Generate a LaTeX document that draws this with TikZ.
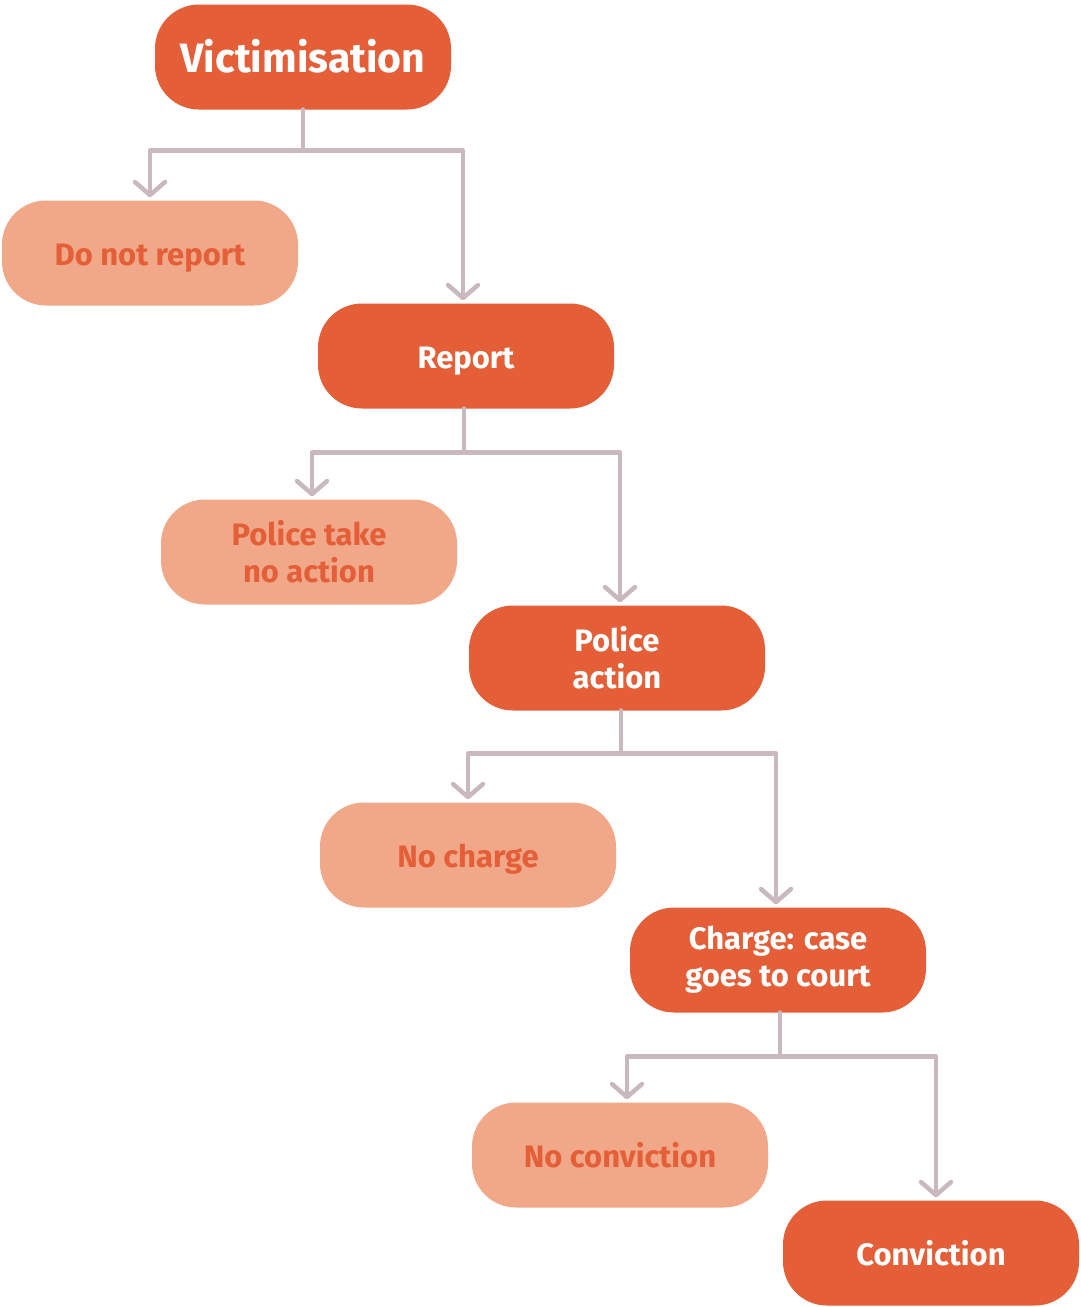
\documentclass[tikz,border=0pt]{standalone}
\usepackage{fontspec}
\setmainfont{Fira Sans}
\usetikzlibrary{arrows.meta}
\definecolor{dark}{HTML}{E45E38}
\definecolor{light}{HTML}{F0A888}
\definecolor{conn}{HTML}{C9B8BD}
\begin{document}
\begin{tikzpicture}[x=1pt,y=-1pt,
  box/.style={rounded corners=44pt, minimum width=296pt, minimum height=105pt,
    align=center, inner sep=0pt, font=\fontsize{31}{37}\selectfont\bfseries},
  oneline/.style={text height=29pt, text depth=5pt},
  darkbox/.style={box, fill=dark, text=white},
  lightbox/.style={box, fill=light, text=dark},
  link/.style={draw=conn, line width=4.5pt, line cap=round, line join=round},
  arr/.style={link, -{Straight Barb[length=13pt,width=30pt,round]}, shorten >=3pt}]
\useasboundingbox (0,0) rectangle (1080,1307);
\node[darkbox, text height=32pt, text depth=1pt, font=\fontsize{41}{48}\selectfont\bfseries] (vict) at (303,57) {Victimisation};
\node[lightbox, oneline] (dnr) at (150,253) {Do not report};
\node[darkbox, oneline] (rep) at (466,356) {Report};
\node[lightbox] (pna) at (309,552) {Police take\\no action};
\node[darkbox] (pa) at (617,658) {Police\\action};
\node[lightbox, oneline] (nch) at (468,855) {No charge};
\node[darkbox] (ch) at (778,960) {Charge: case\\goes to court};
\node[lightbox, oneline] (nco) at (620,1155) {No conviction};
\node[darkbox, oneline] (con) at (931,1253) {Conviction};
% connectors
\draw[arr] (vict.south) -- ++(0,41) -| (dnr.north);
\draw[arr] (vict.south) -- ++(0,41) -| ([xshift=-3pt]rep.north);
\draw[arr] ([xshift=-2pt]rep.south) -- ++(0,44) -| ([xshift=3pt]pna.north);
\draw[arr] ([xshift=-2pt]rep.south) -- ++(0,44) -| ([xshift=3pt]pa.north);
\draw[arr] ([xshift=4pt]pa.south) -- ++(0,43) -| (nch.north);
\draw[arr] ([xshift=4pt]pa.south) -- ++(0,43) -| ([xshift=-2pt]ch.north);
\draw[arr] ([xshift=2pt]ch.south) -- ++(0,44) -| ([xshift=7pt]nco.north);
\draw[arr] ([xshift=2pt]ch.south) -- ++(0,44) -| ([xshift=5pt]con.north);
\end{tikzpicture}
\end{document}
